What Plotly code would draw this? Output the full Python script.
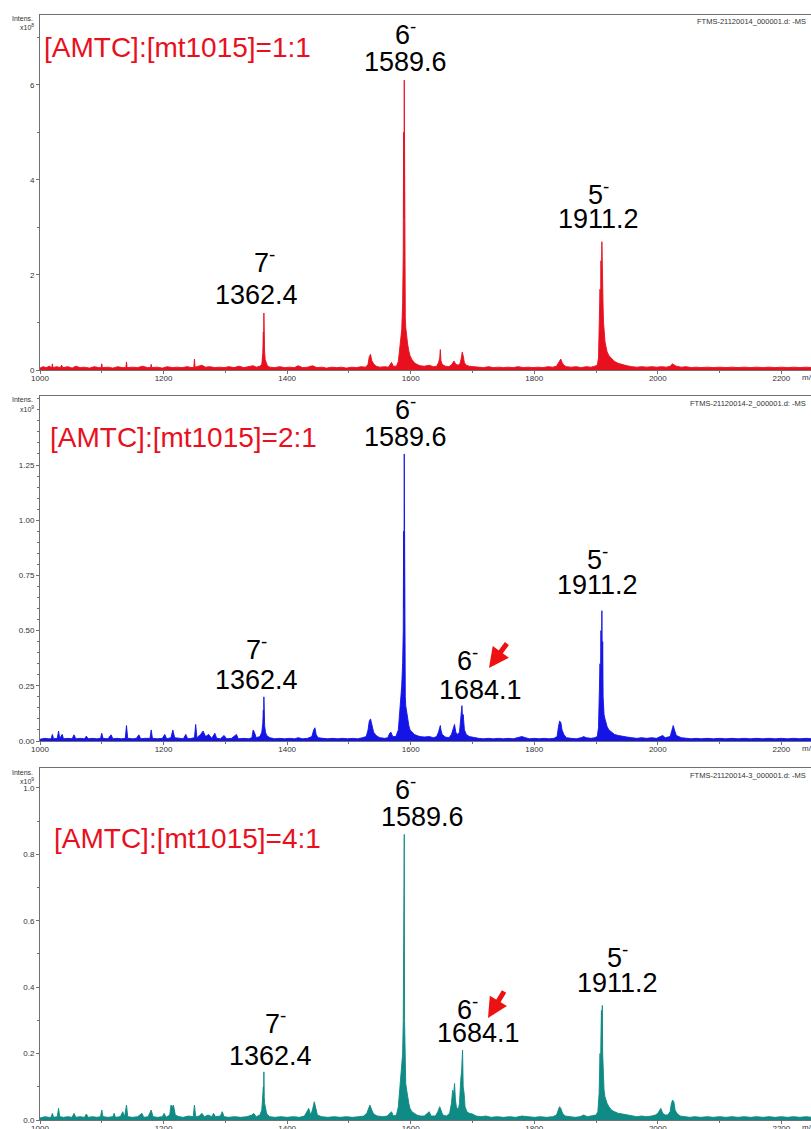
import plotly.graph_objects as go

# ---------------- data ----------------
mz_ticks = [1000, 1200, 1400, 1600, 1800, 2000, 2200]
panel_titles = ["[AMTC]:[mt1015]=1:1", "[AMTC]:[mt1015]=2:1", "[AMTC]:[mt1015]=4:1"]
file_names = ["FTMS-21120014_000001.d: -MS", "FTMS-21120014-2_000001.d: -MS", "FTMS-21120014-3_000001.d: -MS"]
scale_labels = ["x10<sup>8</sup>", "x10<sup>9</sup>", "x10<sup>9</sup>"]

# panel 1 (x10^8)
spec_1to1 = [(1000,0.04),(1005,0.07),(1010,0.05),(1015,0.08),(1019,0.05),(1020,0.13),(1021,0.05),(1027,0.07),(1033,0.05),(1035,0.1),(1037,0.05),(1045,0.07),(1052,0.04),(1058,0.08),(1065,0.05),(1072,0.06),(1080,0.04),(1088,0.07),(1095,0.05),(1099,0.05),(1100,0.13),(1101,0.05),(1110,0.06),(1118,0.04),(1126,0.07),(1133,0.05),(1139,0.05),(1140,0.17),(1141,0.05),(1150,0.06),(1158,0.05),(1166,0.08),(1174,0.05),(1179,0.05),(1180,0.12),(1181,0.05),(1190,0.06),(1198,0.04),(1206,0.07),(1214,0.05),(1222,0.06),(1230,0.05),(1238,0.07),(1246,0.05),(1249,0.06),(1250,0.23),(1251,0.06),(1256,0.08),(1262,0.1),(1268,0.06),(1275,0.07),(1283,0.05),(1290,0.06),(1298,0.05),(1306,0.07),(1314,0.05),(1322,0.08),(1330,0.05),(1338,0.07),(1345,0.09),(1350,0.06),(1356,0.08),(1359,0.12),(1360.6,0.35),(1361.5,0.8),(1362.0,0.55),(1362.4,1.2),(1362.9,0.6),(1363.5,0.4),(1364.5,0.22),(1366,0.15),(1368,0.09),(1372,0.06),(1380,0.05),(1388,0.07),(1396,0.05),(1404,0.06),(1412,0.05),(1418,0.09),(1425,0.05),(1433,0.06),(1441,0.09),(1448,0.05),(1456,0.06),(1464,0.04),(1472,0.06),(1480,0.05),(1488,0.06),(1496,0.04),(1504,0.06),(1512,0.05),(1520,0.07),(1527,0.06),(1531,0.12),(1533,0.28),(1535,0.33),(1537,0.2),(1540,0.13),(1544,0.08),(1550,0.06),(1558,0.07),(1564,0.06),(1567,0.12),(1569,0.16),(1572,0.08),(1577,0.08),(1580,0.18),(1582,0.45),(1584,0.7),(1585.5,0.85),(1587,1.4),(1588,2.5),(1588.6,5.0),(1589.1,3.2),(1589.6,6.1),(1590.1,2.2),(1590.6,1.6),(1591.3,1.1),(1592,0.9),(1593.5,0.7),(1595,0.55),(1597,0.4),(1599,0.3),(1602,0.22),(1606,0.15),(1610,0.12),(1615,0.09),(1622,0.08),(1630,0.1),(1637,0.07),(1642,0.08),(1645,0.15),(1647,0.25),(1648,0.43),(1649,0.2),(1651,0.12),(1656,0.08),(1662,0.07),(1667,0.12),(1670,0.19),(1673,0.12),(1677,0.1),(1680,0.14),(1682,0.25),(1683.5,0.38),(1685,0.3),(1687,0.15),(1690,0.1),(1695,0.08),(1702,0.07),(1710,0.06),(1718,0.05),(1726,0.07),(1734,0.05),(1742,0.06),(1750,0.05),(1758,0.06),(1766,0.05),(1774,0.07),(1782,0.05),(1790,0.06),(1798,0.05),(1806,0.06),(1814,0.05),(1822,0.07),(1830,0.06),(1836,0.08),(1839,0.14),(1841,0.2),(1843,0.23),(1845,0.16),(1848,0.1),(1852,0.07),(1860,0.06),(1868,0.07),(1876,0.05),(1884,0.07),(1892,0.06),(1898,0.08),(1902,0.1),(1904,0.25),(1905.5,0.9),(1906.5,1.7),(1907.3,1.2),(1908,2.3),(1908.8,1.8),(1909.5,2.7),(1910.2,1.6),(1910.8,2.4),(1911.5,1.3),(1912.2,1.0),(1913,0.75),(1914.5,0.6),(1916,0.5),(1918,0.38),(1921,0.3),(1925,0.24),(1930,0.18),(1936,0.14),(1943,0.11),(1950,0.09),(1958,0.07),(1966,0.06),(1974,0.07),(1982,0.06),(1990,0.07),(1998,0.06),(2006,0.07),(2014,0.06),(2020,0.08),(2024,0.13),(2026,0.11),(2030,0.08),(2038,0.06),(2046,0.07),(2054,0.05),(2062,0.06),(2070,0.05),(2080,0.06),(2090,0.05),(2100,0.06),(2110,0.05),(2120,0.06),(2130,0.05),(2140,0.06),(2150,0.05),(2160,0.06),(2170,0.05),(2180,0.06),(2190,0.05),(2200,0.06),(2210,0.05),(2220,0.06),(2230,0.05),(2240,0.06),(2250,0.05)]

# panel 2 (x10^9)
spec_2to1 = [(1000,0.008),(1008,0.012),(1014,0.01),(1018,0.01),(1020,0.03),(1022,0.01),(1028,0.012),(1030,0.045),(1032,0.012),(1036,0.03),(1038,0.01),(1045,0.012),(1052,0.01),(1055,0.028),(1058,0.01),(1065,0.012),(1072,0.01),(1075,0.022),(1078,0.01),(1085,0.012),(1092,0.01),(1098,0.012),(1100,0.035),(1102,0.012),(1110,0.01),(1115,0.028),(1118,0.01),(1125,0.012),(1132,0.01),(1138,0.012),(1140,0.07),(1142,0.012),(1150,0.01),(1156,0.012),(1160,0.028),(1163,0.01),(1170,0.012),(1178,0.012),(1180,0.05),(1182,0.012),(1190,0.01),(1198,0.012),(1202,0.03),(1205,0.01),(1212,0.015),(1215,0.05),(1218,0.015),(1225,0.012),(1232,0.01),(1236,0.03),(1239,0.01),(1245,0.012),(1250,0.015),(1252,0.075),(1254,0.015),(1260,0.03),(1264,0.045),(1268,0.02),(1273,0.03),(1278,0.012),(1283,0.035),(1286,0.012),(1292,0.01),(1298,0.025),(1302,0.01),(1310,0.012),(1318,0.03),(1321,0.01),(1330,0.012),(1338,0.01),(1343,0.015),(1345,0.05),(1347,0.04),(1350,0.015),(1356,0.02),(1359,0.04),(1360.6,0.08),(1361.5,0.14),(1362,0.09),(1362.4,0.2),(1362.9,0.1),(1363.6,0.07),(1365,0.04),(1367,0.025),(1372,0.015),(1380,0.01),(1388,0.012),(1396,0.01),(1404,0.012),(1412,0.01),(1418,0.015),(1425,0.01),(1433,0.012),(1440,0.02),(1443,0.05),(1445,0.06),(1447,0.03),(1450,0.015),(1458,0.012),(1466,0.01),(1474,0.012),(1482,0.01),(1490,0.012),(1498,0.01),(1506,0.012),(1514,0.01),(1522,0.015),(1528,0.02),(1531,0.05),(1533,0.09),(1535,0.1),(1537,0.07),(1540,0.04),(1544,0.025),(1550,0.015),(1558,0.012),(1563,0.015),(1566,0.035),(1568,0.04),(1571,0.02),(1576,0.02),(1580,0.05),(1582,0.12),(1584,0.2),(1585.5,0.25),(1587,0.35),(1588,0.5),(1588.6,0.95),(1589.1,0.6),(1589.6,1.3),(1590.1,0.4),(1590.6,0.38),(1591.3,0.2),(1592,0.16),(1593.5,0.13),(1595,0.1),(1597,0.07),(1599,0.05),(1602,0.04),(1606,0.03),(1610,0.025),(1615,0.02),(1622,0.018),(1630,0.02),(1637,0.015),(1642,0.02),(1645,0.04),(1647,0.06),(1648,0.07),(1649,0.05),(1651,0.03),(1656,0.018),(1662,0.015),(1666,0.03),(1669,0.065),(1671,0.075),(1673,0.04),(1676,0.03),(1679,0.04),(1681,0.1),(1683,0.16),(1684,0.1),(1685,0.12),(1687,0.05),(1690,0.03),(1695,0.02),(1702,0.015),(1710,0.012),(1718,0.01),(1726,0.012),(1734,0.01),(1742,0.012),(1750,0.01),(1758,0.012),(1766,0.01),(1774,0.015),(1780,0.02),(1786,0.015),(1792,0.01),(1800,0.012),(1808,0.01),(1816,0.012),(1824,0.01),(1832,0.012),(1837,0.02),(1839,0.06),(1841,0.09),(1843,0.085),(1845,0.05),(1848,0.03),(1852,0.015),(1860,0.012),(1868,0.01),(1876,0.015),(1880,0.02),(1884,0.015),(1892,0.012),(1898,0.015),(1902,0.02),(1904,0.06),(1905.5,0.2),(1906.5,0.35),(1907.3,0.25),(1908,0.5),(1908.8,0.3),(1909.5,0.59),(1910.2,0.3),(1910.8,0.45),(1911.5,0.2),(1912.2,0.16),(1913,0.12),(1914.5,0.1),(1916,0.08),(1918,0.065),(1921,0.05),(1925,0.04),(1930,0.03),(1936,0.025),(1943,0.02),(1950,0.018),(1958,0.015),(1966,0.012),(1974,0.015),(1982,0.012),(1990,0.015),(1998,0.012),(2004,0.02),(2008,0.025),(2012,0.015),(2020,0.02),(2023,0.05),(2025,0.07),(2027,0.05),(2030,0.025),(2038,0.015),(2046,0.012),(2054,0.01),(2062,0.012),(2070,0.01),(2080,0.012),(2090,0.01),(2100,0.012),(2110,0.01),(2120,0.012),(2130,0.01),(2140,0.012),(2150,0.01),(2160,0.012),(2170,0.01),(2180,0.012),(2190,0.01),(2200,0.012),(2210,0.01),(2220,0.012),(2230,0.01),(2240,0.012),(2250,0.01)]

# panel 3 (x10^9)
spec_4to1 = [(1000,0.006),(1008,0.01),(1014,0.008),(1018,0.008),(1020,0.02),(1022,0.008),(1028,0.01),(1030,0.035),(1032,0.01),(1038,0.008),(1045,0.01),(1052,0.008),(1055,0.02),(1058,0.008),(1065,0.01),(1072,0.008),(1075,0.018),(1078,0.008),(1085,0.01),(1092,0.008),(1098,0.01),(1100,0.03),(1102,0.01),(1110,0.008),(1118,0.01),(1120,0.02),(1122,0.008),(1130,0.01),(1134,0.025),(1137,0.01),(1140,0.045),(1142,0.01),(1150,0.008),(1158,0.01),(1165,0.02),(1168,0.008),(1175,0.01),(1180,0.03),(1183,0.01),(1190,0.008),(1198,0.01),(1201,0.02),(1204,0.008),(1210,0.015),(1212,0.045),(1214,0.04),(1216,0.045),(1219,0.015),(1225,0.01),(1232,0.008),(1240,0.012),(1248,0.01),(1250,0.045),(1252,0.01),(1258,0.012),(1262,0.02),(1266,0.01),(1272,0.015),(1278,0.01),(1281,0.02),(1284,0.01),(1292,0.012),(1295,0.025),(1298,0.01),(1305,0.008),(1315,0.01),(1325,0.008),(1335,0.01),(1343,0.015),(1346,0.02),(1350,0.01),(1356,0.015),(1359,0.03),(1360.6,0.06),(1361.5,0.1),(1362,0.07),(1362.4,0.145),(1362.9,0.07),(1363.6,0.05),(1365,0.03),(1367,0.018),(1372,0.01),(1380,0.008),(1390,0.01),(1400,0.008),(1410,0.01),(1420,0.008),(1428,0.012),(1432,0.025),(1435,0.035),(1438,0.015),(1441,0.03),(1444,0.055),(1446,0.04),(1449,0.015),(1456,0.01),(1466,0.008),(1476,0.01),(1486,0.008),(1496,0.01),(1506,0.008),(1516,0.01),(1524,0.012),(1529,0.02),(1532,0.035),(1534,0.045),(1537,0.03),(1540,0.018),(1546,0.012),(1555,0.01),(1562,0.012),(1566,0.02),(1569,0.025),(1572,0.012),(1577,0.015),(1580,0.04),(1582,0.08),(1584,0.12),(1585.5,0.15),(1587,0.2),(1588,0.3),(1588.6,0.5),(1589.1,0.3),(1589.6,0.86),(1590.1,0.3),(1590.6,0.2),(1591.3,0.14),(1592,0.11),(1593.5,0.09),(1595,0.07),(1597,0.05),(1599,0.035),(1602,0.025),(1606,0.02),(1610,0.015),(1616,0.012),(1622,0.012),(1627,0.02),(1630,0.025),(1633,0.012),(1640,0.012),(1644,0.025),(1647,0.04),(1649,0.03),(1652,0.015),(1658,0.012),(1663,0.02),(1666,0.05),(1668,0.09),(1669.5,0.075),(1671,0.11),(1672.5,0.06),(1674,0.04),(1677,0.03),(1679,0.05),(1681,0.12),(1682.5,0.15),(1684,0.21),(1685,0.1),(1686.5,0.08),(1688,0.04),(1691,0.025),(1695,0.02),(1700,0.018),(1706,0.012),(1714,0.01),(1722,0.012),(1730,0.008),(1740,0.01),(1750,0.008),(1760,0.01),(1770,0.008),(1780,0.012),(1790,0.01),(1800,0.008),(1810,0.01),(1820,0.008),(1830,0.01),(1836,0.015),(1839,0.03),(1841,0.04),(1843,0.035),(1846,0.02),(1850,0.012),(1858,0.01),(1866,0.008),(1874,0.01),(1880,0.015),(1886,0.01),(1894,0.012),(1900,0.015),(1903,0.025),(1905,0.08),(1906.5,0.2),(1907.3,0.15),(1908,0.25),(1908.8,0.33),(1909.5,0.2),(1910.2,0.345),(1910.8,0.2),(1911.5,0.15),(1912.2,0.12),(1913,0.09),(1914.5,0.07),(1916,0.06),(1918,0.05),(1921,0.04),(1925,0.03),(1930,0.025),(1936,0.02),(1943,0.018),(1950,0.015),(1958,0.012),(1966,0.01),(1974,0.012),(1982,0.01),(1990,0.012),(1996,0.015),(2000,0.02),(2003,0.03),(2005,0.035),(2008,0.02),(2012,0.015),(2016,0.015),(2020,0.025),(2022,0.05),(2024,0.06),(2026,0.055),(2028,0.03),(2031,0.02),(2036,0.012),(2044,0.01),(2052,0.008),(2060,0.01),(2070,0.008),(2080,0.01),(2090,0.008),(2100,0.01),(2110,0.008),(2120,0.01),(2130,0.008),(2140,0.01),(2150,0.008),(2160,0.01),(2170,0.008),(2180,0.01),(2190,0.008),(2200,0.01),(2210,0.008),(2220,0.01),(2230,0.008),(2240,0.01),(2250,0.008)]

# y tick labels
y_ticks_1 = [0, 2, 4, 6]
y_ticks_2 = [0.0, 0.25, 0.5, 0.75, 1.0, 1.25]
y_ticks_3 = [0.0, 0.2, 0.4, 0.6, 0.8, 1.0]

# ---------------- layout helpers ----------------
W, H = 811, 1129
def px(x): return x / W
def py(y): return 1 - y / H

FONT = "Arial, 'Liberation Sans', sans-serif"
colors = ["#e8101e", "#1414e6", "#0f8a84"]
specs = [spec_1to1, spec_2to1, spec_4to1]
# panel pixel frames: (top, bottom)
frames = [(15, 370), (396, 741), (768, 1120)]
y_ranges = [[0, 7.47], [0, 1.5625], [0, 1.06]]
y_tickvals = [y_ticks_1, y_ticks_2, y_ticks_3]
y_fmt = ["d", ".2f", ".1f"]
y_minor = [1, 0.05, 0.1]

fig = go.Figure()
axis_col = "#707070"
for i in range(3):
    mz = [p[0] for p in specs[i]]
    it = [p[1] for p in specs[i]]
    sfx = "" if i == 0 else str(i + 1)
    fig.add_trace(go.Scatter(x=mz, y=it, mode="lines", fill="tozeroy",
                             line=dict(color=colors[i], width=0.9),
                             fillcolor=colors[i], xaxis="x" + sfx, yaxis="y" + sfx,
                             hoverinfo="skip", showlegend=False))
    top, bot = frames[i]
    fig.layout["xaxis" + sfx] = dict(
        domain=[px(40), 1], anchor="y" + sfx, range=[1000, 2248], automargin=False,
        tickvals=mz_ticks, ticks="outside", ticklen=3, tickcolor=axis_col,
        ticklabelstandoff=-3,
        minor=dict(dtick=100, ticks="outside", ticklen=2, tickcolor=axis_col),
        showline=True, linecolor=axis_col, linewidth=1, mirror=True,
        showgrid=False, zeroline=False,
        tickfont=dict(family=FONT, size=8, color="#333"))
    fig.layout["yaxis" + sfx] = dict(
        domain=[py(bot), py(top)], anchor="x" + sfx, range=y_ranges[i], automargin=False,
        tickvals=y_tickvals[i], tickformat=y_fmt[i], ticks="outside", ticklen=3,
        tickcolor=axis_col,
        minor=dict(dtick=y_minor[i], ticks="outside", ticklen=2, tickcolor=axis_col),
        showline=True, linecolor=axis_col, linewidth=1,
        showgrid=False, zeroline=False,
        tickfont=dict(family=FONT, size=8, color="#333"))

ann = []
def txt(x, y, s, size=27, color="black", xanchor="center"):
    ann.append(dict(x=px(x), y=py(y), xref="paper", yref="paper", text=s,
                    showarrow=False, xanchor=xanchor, yanchor="middle",
                    font=dict(family=FONT, size=size, color=color)))

def arrow(hx, hy, tx, ty):
    ann.append(dict(x=px(hx), y=py(hy), xref="paper", yref="paper", text="",
                    showarrow=True, ax=tx - hx, ay=ty - hy, axref="pixel", ayref="pixel",
                    arrowcolor="#ee1111", arrowwidth=5, arrowhead=2, arrowsize=0.8))

red = "#e8101e"
# small axis texts
intens_y = [(18, 27), (399, 409), (772, 781)]
for i in range(3):
    a, b = intens_y[i]
    txt(35, a, "Intens.", size=7, color="#333", xanchor="right")
    txt(36, b, scale_labels[i], size=7, color="#333", xanchor="right")
    txt(808, frames[i][0] + 7, file_names[i], size=7.5, color="#333", xanchor="right")
    txt(800, frames[i][1] + 7, "m/z", size=8, color="#333", xanchor="left")

# panel 1
txt(42, 48, panel_titles[0], color=red, xanchor="left", size=28)
txt(405, 33, "6<sup>-</sup>"); txt(405, 62, "1589.6")
txt(598, 193, "5<sup>-</sup>"); txt(598, 219, "1911.2")
txt(264, 261, "7<sup>-</sup>"); txt(256, 295, "1362.4")
# panel 2
txt(48, 437, panel_titles[1], color=red, xanchor="left", size=28)
txt(405, 408, "6<sup>-</sup>"); txt(405, 437, "1589.6")
txt(597, 558, "5<sup>-</sup>"); txt(597, 585, "1911.2")
txt(256, 648, "7<sup>-</sup>"); txt(256, 680, "1362.4")
txt(467, 659, "6<sup>-</sup>"); txt(480, 690, "1684.1")
arrow(489, 668, 508, 642)
# panel 3
txt(52, 838, panel_titles[2], color=red, xanchor="left", size=28)
txt(405, 788, "6<sup>-</sup>"); txt(422, 817, "1589.6")
txt(617, 956, "5<sup>-</sup>"); txt(617, 983, "1911.2")
txt(275, 1022, "7<sup>-</sup>"); txt(270, 1056, "1362.4")
txt(467, 1008, "6<sup>-</sup>"); txt(478, 1033, "1684.1")
arrow(488, 1018, 505, 990)

fig.update_layout(width=W, height=H, margin=dict(l=0, r=0, t=0, b=0, autoexpand=False),
                  paper_bgcolor="white", plot_bgcolor="white",
                  annotations=ann, showlegend=False)
fig.write_html("out.html")
